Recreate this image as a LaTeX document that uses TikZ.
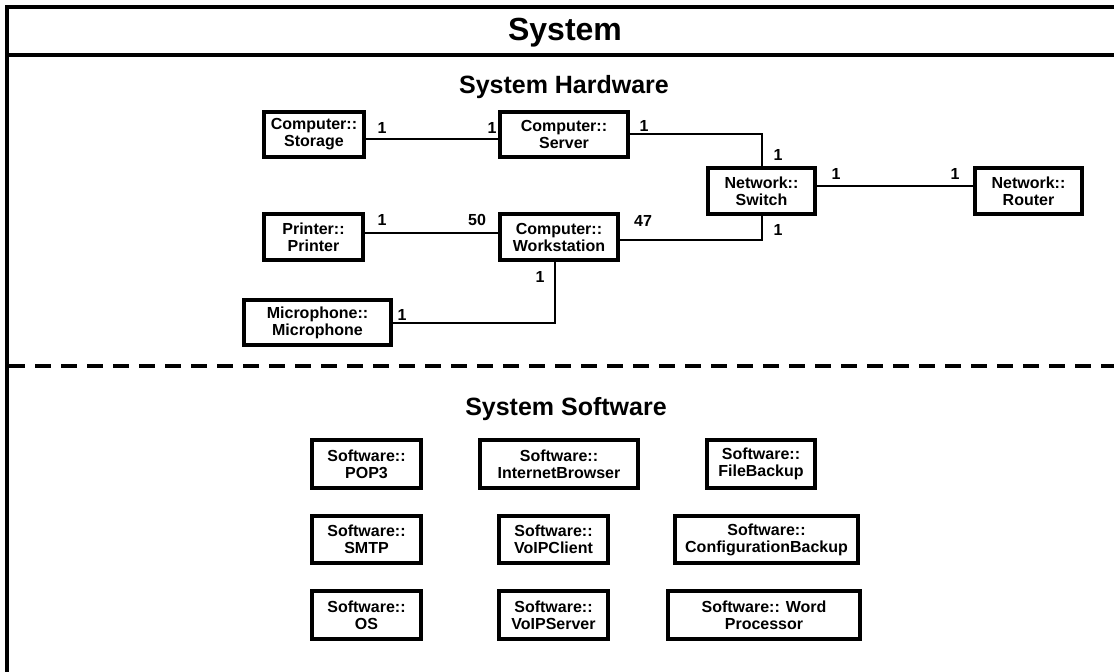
\documentclass[tikz,border=0pt]{standalone}
\usepackage{fontspec}
\setmainfont{Liberation Sans}
\newcommand{\boxfont}{\bfseries\fontsize{16}{17}\selectfont}
\newcommand{\multfont}{\bfseries\fontsize{16}{16}\selectfont}

\begin{document}
\begin{tikzpicture}[x=1pt, y=-1pt,
    unit/.style={draw, rectangle, line width=4pt, align=center, font=\boxfont, inner sep=0pt, minimum height=45},
    soft/.style={unit, minimum width=109, minimum height=48},
    mult/.style={font=\multfont, inner sep=0pt},
    link/.style={line width=2pt},
    frame/.style={line width=4pt}]
    \clip (0,0) rectangle (1114,672);

    % outer frame and section lines
    \draw[frame] (7,690) -- (7,7) -- (1130,7);
    \draw[frame] (7,55) -- (1130,55);
    \draw[frame, dash pattern=on 16pt off 10pt] (9,366) -- (1130,366);

    \node (title) at (565,33) [font=\bfseries\fontsize{32}{32}\selectfont] {System};
    \node (hwtitle) at (564,87) [font=\bfseries\fontsize{25}{25}\selectfont] {System Hardware};
    \node (swtitle) at (566,409) [font=\bfseries\fontsize{25}{25}\selectfont] {System Software};

    % hardware
    \node (storage) at (314,134) [unit, minimum width=100] {Computer::\\Storage};
    \node (server) at (564,134) [unit, minimum width=128] {Computer::\\Server};
    \node (printer) at (313.5,237) [unit, minimum width=99, minimum height=46] {Printer::\\Printer};
    \node (workst) at (559,237) [unit, minimum width=118, minimum height=46] {Computer::\\Workstation};
    \node (switch) at (761.5,191) [unit, minimum width=107, minimum height=46] {Network::\\Switch};
    \node (router) at (1028.5,191) [unit, minimum width=107, minimum height=46] {Network::\\Router};
    \node (mic) at (317.5,322.5) [unit, minimum width=147] {Microphone::\\Microphone};

    \draw[link] ([yshift=-5]storage.east) -- ([yshift=-5]server.west);
    \draw[link] (server.east) -| (switch.north);
    \draw[link] ([yshift=-3]workst.east) -| (switch.south);
    \draw[link] ([yshift=5]switch.east) -- ([yshift=5]router.west);
    \draw[link] ([yshift=4]printer.east) -- ([yshift=4]workst.west);
    \draw[link] ([xshift=-4]workst.south) |- (mic.east);

    \node (m1) at (382,128) [mult] {1};
    \node (m2) at (492,128) [mult] {1};
    \node (m3) at (644,126) [mult] {1};
    \node (m4) at (778,155) [mult] {1};
    \node (m5) at (836,174) [mult] {1};
    \node (m6) at (955,174) [mult] {1};
    \node (m7) at (643,221) [mult] {47};
    \node (m8) at (778,230) [mult] {1};
    \node (m9) at (382,220) [mult] {1};
    \node (m10) at (477,220) [mult] {50};
    \node (m11) at (540,277) [mult] {1};
    \node (m12) at (402,315) [mult] {1};

    % software
    \node (pop3) at (366.5,464) [soft] {Software::\\POP3};
    \node (browser) at (559,464) [soft, minimum width=158] {Software::\\InternetBrowser};
    \node (filebackup) at (761,464) [soft, minimum width=108] {Software::\\FileBackup};
    \node (smtp) at (366.5,539.5) [soft, minimum height=47] {Software::\\SMTP};
    \node (voipclient) at (553.5,539.5) [soft, minimum height=47] {Software::\\VoIPClient};
    \node (configbackup) at (766.5,539.5) [soft, minimum width=183, minimum height=47] {Software::\\ConfigurationBackup};
    \node (os) at (366.5,615) [soft] {Software::\\OS};
    \node (voipserver) at (553.5,615) [soft] {Software::\\VoIPServer};
    \node (wordproc) at (764,615) [soft, minimum width=192] {Software:: Word\\Processor};
\end{tikzpicture}
\end{document}
